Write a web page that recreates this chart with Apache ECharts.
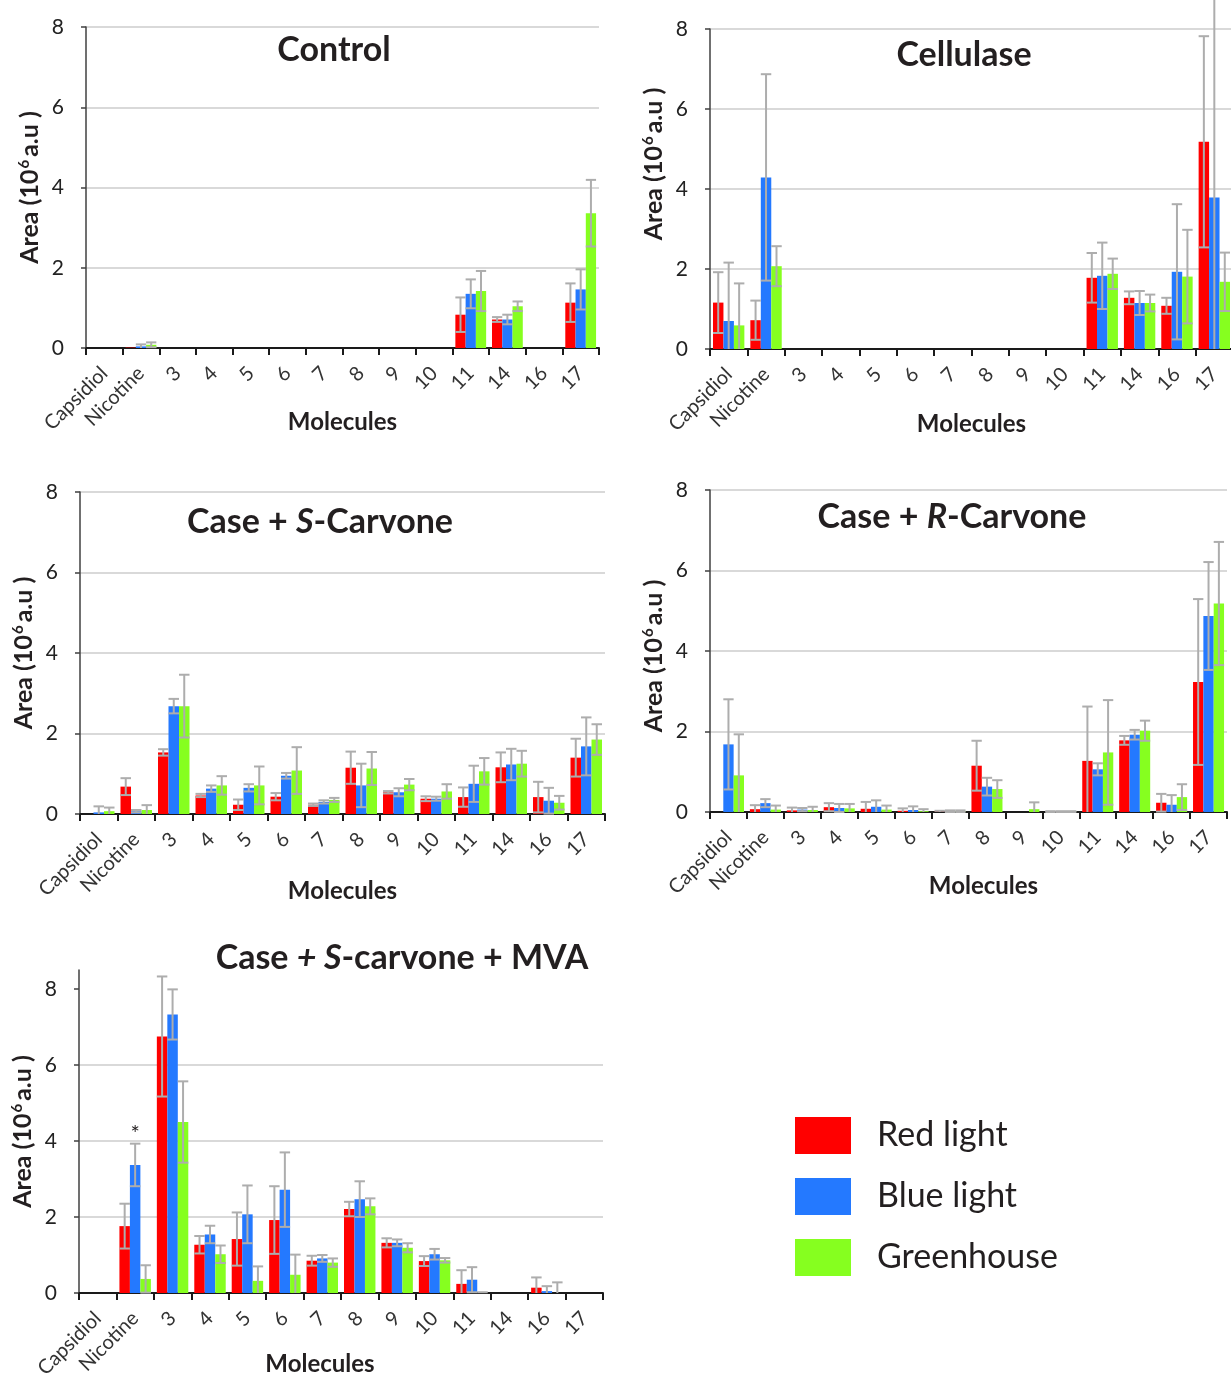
<!DOCTYPE html>
<html><head><meta charset="utf-8">
<script src="https://cdn.jsdelivr.net/npm/echarts@6/dist/echarts.min.js"></script>
<style>html,body{margin:0;padding:0;background:#fff}#c{width:1231px;height:1383px}</style>
</head><body><div id="c"></div>
<script>
const categories = ['Capsidiol','Nicotine','3','4','5','6','7','8','9','10','11','14','16','17'];
const seriesNames = ['Red light','Blue light','Greenhouse'];
const yTicks = [0, 2, 4, 6, 8];

// Control
const ctrlRed       = [0, 0.01, 0, 0, 0, 0, 0, 0, 0, 0, 0.83, 0.71, 0, 1.13];
const ctrlRedErr    = [0, 0,    0, 0, 0, 0, 0, 0, 0, 0, 0.43, 0.06, 0, 0.48];
const ctrlBlue      = [0, 0.04, 0, 0, 0, 0, 0, 0, 0, 0, 1.35, 0.71, 0, 1.46];
const ctrlBlueErr   = [0, 0.05, 0, 0, 0, 0, 0, 0, 0, 0, 0.36, 0.12, 0, 0.50];
const ctrlGreen     = [0, 0.08, 0, 0, 0, 0, 0, 0, 0, 0, 1.42, 1.04, 0, 3.36];
const ctrlGreenErr  = [0, 0.06, 0, 0, 0, 0, 0, 0, 0, 0, 0.50, 0.12, 0, 0.83];

// Cellulase
const cellRed       = [1.16, 0.72, 0, 0, 0, 0, 0, 0, 0, 0, 1.78, 1.28, 1.08, 5.18];
const cellRedErr    = [0.76, 0.49, 0, 0, 0, 0, 0, 0, 0, 0, 0.62, 0.16, 0.20, 2.64];
const cellBlue      = [0.70, 4.29, 0, 0, 0, 0, 0, 0, 0, 0, 1.83, 1.15, 1.93, 3.79];
const cellBlueErr   = [1.46, 2.58, 0, 0, 0, 0, 0, 0, 0, 0, 0.83, 0.30, 1.69, 5.20];
const cellGreen     = [0.59, 2.07, 0, 0, 0, 0, 0, 0, 0, 0, 1.88, 1.15, 1.81, 1.68];
const cellGreenErr  = [1.05, 0.50, 0, 0, 0, 0, 0, 0, 0, 0, 0.38, 0.21, 1.17, 0.73];

// Case + S-Carvone
const sRed          = [0, 0.68, 1.53, 0.46, 0.23, 0.43, 0.23, 1.15, 0.54, 0.38, 0.42, 1.16, 0.42, 1.40];
const sRedErr       = [0, 0.21, 0.08, 0.04, 0.13, 0.09, 0.03, 0.40, 0.03, 0.06, 0.24, 0.37, 0.38, 0.47];
const sBlue         = [0.04, 0.07, 2.68, 0.63, 0.65, 0.95, 0.30, 0.71, 0.54, 0.38, 0.75, 1.23, 0.33, 1.68];
const sBlueErr      = [0.15, 0.03, 0.18, 0.08, 0.09, 0.07, 0.04, 0.54, 0.10, 0.05, 0.45, 0.39, 0.32, 0.72];
const sGreen        = [0.07, 0.10, 2.68, 0.71, 0.71, 1.08, 0.35, 1.13, 0.73, 0.56, 1.06, 1.25, 0.28, 1.85];
const sGreenErr     = [0.09, 0.12, 0.78, 0.23, 0.47, 0.58, 0.05, 0.41, 0.14, 0.18, 0.33, 0.32, 0.17, 0.38];

// Case + R-Carvone
const rRed          = [0, 0.07, 0.04, 0.12, 0.08, 0.03, 0.01, 1.15, 0, 0.01, 1.27, 1.78, 0.23, 3.23];
const rRedErr       = [0, 0.10, 0.07, 0.10, 0.17, 0.06, 0.02, 0.62, 0, 0.01, 1.35, 0.11, 0.22, 2.06];
const rBlue         = [1.68, 0.22, 0.06, 0.10, 0.13, 0.05, 0.02, 0.63, 0, 0.01, 1.06, 1.92, 0.18, 4.87];
const rBlueErr      = [1.12, 0.10, 0.04, 0.10, 0.16, 0.09, 0.02, 0.22, 0, 0.01, 0.15, 0.12, 0.24, 1.34];
const rGreen        = [0.91, 0.06, 0.05, 0.09, 0.06, 0.02, 0.02, 0.57, 0.07, 0.01, 1.48, 2.02, 0.37, 5.18];
const rGreenErr     = [1.02, 0.10, 0.08, 0.11, 0.10, 0.05, 0.02, 0.22, 0.17, 0.01, 1.30, 0.25, 0.32, 1.53];

// Case + S-carvone + MVA
const mvaRed        = [0, 1.76, 6.75, 1.27, 1.42, 1.92, 0.85, 2.21, 1.32, 0.84, 0.24, 0, 0.14, 0];
const mvaRedErr     = [0, 0.59, 1.58, 0.23, 0.70, 0.89, 0.13, 0.19, 0.12, 0.13, 0.36, 0, 0.27, 0];
const mvaBlue       = [0, 3.37, 7.33, 1.54, 2.07, 2.72, 0.91, 2.47, 1.32, 1.02, 0.35, 0, 0.05, 0];
const mvaBlueErr    = [0, 0.56, 0.66, 0.23, 0.76, 0.98, 0.09, 0.47, 0.09, 0.14, 0.33, 0, 0.13, 0];
const mvaGreen      = [0, 0.37, 4.50, 1.02, 0.32, 0.48, 0.80, 2.28, 1.19, 0.86, 0, 0, 0, 0];
const mvaGreenErr   = [0, 0.36, 1.07, 0.23, 0.38, 0.53, 0.11, 0.21, 0.12, 0.06, 0.02, 0, 0.28, 0];
const mvaBlueSignif = ['', '*', '', '', '', '', '', '', '', '', '', '', '', ''];

const FONT = 'Lato, "Open Sans", sans-serif';
const COLORS = ['#FF0000', '#2479FF', '#86FF1F'];
const ERR_COLOR = '#ADADAD';
const TEXT = '#231F20';
const GAP = 0.16;
const TITLE_SIZE = 34;

const panels = [
  { grid: {left: 86, top: 27, width: 513, height: 321}, max: 8,
    vals: [ctrlRed, ctrlBlue, ctrlGreen], errs: [ctrlRedErr, ctrlBlueErr, ctrlGreenErr],
    title: 'Control', tx: 334, ty: 33, xGap: 62, xPad: [0,0,0,0], yPad: [0,0,0,0] },
  { grid: {left: 710, top: 29, width: 523, height: 320}, max: 8,
    vals: [cellRed, cellBlue, cellGreen], errs: [cellRedErr, cellBlueErr, cellGreenErr],
    title: 'Cellulase', tx: 964, ty: 38, xGap: 63, xPad: [0,0,0,0], yPad: [0,0,0,50] },
  { grid: {left: 80, top: 492, width: 525, height: 322}, max: 8,
    vals: [sRed, sBlue, sGreen], errs: [sRedErr, sBlueErr, sGreenErr],
    title: 'Case + {i|S}-Carvone', tx: 320, ty: 505, xGap: 65, xPad: [0,0,0,0], yPad: [0,0,0,0] },
  { grid: {left: 710, top: 490, width: 517, height: 322}, max: 8,
    vals: [rRed, rBlue, rGreen], errs: [rRedErr, rBlueErr, rGreenErr],
    title: 'Case + {i|R}-Carvone', tx: 952, ty: 500, xGap: 62, xPad: [0,0,0,30], yPad: [0,10,0,0] },
  { grid: {left: 79, top: 970, width: 524, height: 323}, max: 8.5,
    vals: [mvaRed, mvaBlue, mvaGreen], errs: [mvaRedErr, mvaBlueErr, mvaGreenErr],
    signif: [null, mvaBlueSignif, null],
    title: 'Case {i|+ S}-carvone + MVA', tx: 402, ty: 941, xGap: 59, xPad: [0,42,0,0], yPad: [0,0,0,0] }
];

function errRenderer(slot) {
  return function (params, api) {
    const ci = api.value(0), v = api.value(1), e = api.value(2);
    if (!(e > 0)) return null;
    const band = api.size([1, 0])[0];
    const bw = band * (1 - GAP) / 3;
    const cx = api.coord([ci, 0])[0] + (slot - 1) * bw;
    const lo = v - e, hi = v + e;
    const yLo = api.coord([ci, Math.max(lo, 0)])[1];
    const yHi = api.coord([ci, hi])[1];
    const hw = bw / 2;
    const style = {stroke: ERR_COLOR, lineWidth: 2};
    const children = [
      {type: 'line', shape: {x1: cx, y1: yLo, x2: cx, y2: yHi}, style: style},
      {type: 'line', shape: {x1: cx - hw, y1: yHi, x2: cx + hw, y2: yHi}, style: style}
    ];
    if (lo >= 0) children.push({type: 'line', shape: {x1: cx - hw, y1: yLo, x2: cx + hw, y2: yLo}, style: style});
    return {type: 'group', children: children};
  };
}

const titleRich = {
  i: {fontStyle: 'italic', fontWeight: 'bold', fontSize: TITLE_SIZE, fontFamily: FONT, color: TEXT}
};

const option = {
  animation: false,
  backgroundColor: '#fff',
  title: [],
  grid: [],
  xAxis: [],
  yAxis: [],
  series: [],
  legend: {
    data: seriesNames,
    orient: 'vertical',
    left: 795, top: 1117,
    padding: 0,
    icon: 'rect',
    itemWidth: 56, itemHeight: 37, itemGap: 24,
    selectedMode: false,
    textStyle: {fontSize: 34, fontFamily: FONT, color: TEXT, padding: [0, 0, 0, 21]}
  }
};

panels.forEach(function (p, k) {
  option.title.push({
    text: p.title, left: p.tx, top: p.ty, textAlign: 'center', padding: 0,
    textStyle: {fontSize: TITLE_SIZE, fontWeight: 'bold', fontFamily: FONT, color: TEXT, rich: titleRich}
  });
  option.grid.push(Object.assign({containLabel: false, outerBoundsMode: 'none'}, p.grid));
  option.xAxis.push({
    type: 'category', gridIndex: k, data: categories,
    name: 'Molecules', nameLocation: 'middle', nameGap: p.xGap, nameMoveOverlap: false,
    nameTextStyle: {fontSize: 24, fontWeight: 'bold', fontFamily: FONT, color: TEXT, padding: p.xPad},
    axisLine: {lineStyle: {color: '#1a1a1a', width: 2}},
    axisTick: {show: true, length: 7, lineStyle: {color: '#1a1a1a', width: 2}},
    axisLabel: {interval: 0, rotate: 45, fontSize: 20, fontFamily: FONT, color: '#333', margin: 22},
    splitLine: {show: false}
  });
  option.yAxis.push({
    type: 'value', gridIndex: k, min: 0, max: p.max, interval: 2,
    name: 'Area (10{s|6}a.u )', nameLocation: 'middle', nameGap: 44, nameMoveOverlap: false,
    nameTextStyle: {fontSize: 25, fontWeight: 'bold', fontFamily: FONT, color: TEXT, padding: p.yPad,
      rich: {s: {fontSize: 15, fontWeight: 'bold', fontFamily: FONT, color: TEXT, verticalAlign: 'top', padding: [0, 3, 0, 1]}}},
    axisLine: {show: true, lineStyle: {color: '#404040', width: 1.5}},
    axisTick: {show: true, length: 5, lineStyle: {color: '#404040', width: 1.5}, customValues: yTicks},
    axisLabel: {fontSize: 21, fontFamily: FONT, color: '#222', margin: 22, customValues: yTicks,
      formatter: function (v) { return (v % 2 === 0) ? String(v) : ''; }},
    splitLine: {show: true, showMaxLine: p.max === 8, lineStyle: {color: '#D9D9D9', width: 2}}
  });
  for (let s = 0; s < 3; s++) {
    const sig = p.signif && p.signif[s];
    option.series.push({
      type: 'bar', name: seriesNames[s], xAxisIndex: k, yAxisIndex: k,
      barGap: '0%', barCategoryGap: (GAP * 100) + '%',
      itemStyle: {color: COLORS[s]},
      data: p.vals[s].map(function (v, i) {
        if (sig && sig[i]) {
          return {value: v, label: {show: true, position: 'top', distance: 20, formatter: sig[i],
            fontSize: 22, fontFamily: FONT, color: TEXT}};
        }
        return v;
      }),
      z: 2
    });
  }
  for (let s = 0; s < 3; s++) {
    option.series.push({
      type: 'custom', xAxisIndex: k, yAxisIndex: k,
      renderItem: errRenderer(s),
      encode: {x: 0, y: 1},
      data: p.vals[s].map(function (v, i) { return [i, v, p.errs[s][i]]; }),
      z: 5, silent: true
    });
  }
});

const chart = echarts.init(document.getElementById('c'), null, {renderer: 'canvas'});
chart.setOption(option);
</script>
</body></html>
